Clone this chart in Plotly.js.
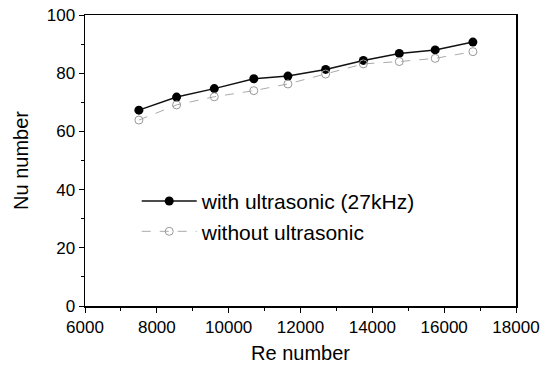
<!DOCTYPE html>
<html>
<head>
<meta charset="utf-8">
<script src="https://cdn.plot.ly/plotly-3.0.1.min.js"></script>
<style>html,body{margin:0;padding:0;background:#fff;}#chart{width:549px;height:370px;}</style>
</head>
<body>
<div id="chart"></div>
<script>
const re = [7500, 8550, 9600, 10700, 11650, 12700, 13750, 14750, 15750, 16800];
const nuWith = [67.3, 71.8, 74.7, 78.1, 79.0, 81.3, 84.4, 86.8, 88.0, 90.7];
const nuWithout = [63.9, 69.1, 71.9, 74.0, 76.3, 79.7, 83.2, 84.0, 85.1, 87.4];
const seriesNames = ['with ultrasonic (27kHz)', 'without ultrasonic'];

const font = 'Liberation Sans, Arial, sans-serif';
const traces = [
  {x: re, y: nuWith, name: seriesNames[0], mode: 'lines+markers',
   line: {color: '#111', width: 1.5},
   marker: {symbol: 'circle', size: 9, color: '#000'}},
  {x: re, y: nuWithout, name: seriesNames[1], mode: 'lines+markers',
   line: {color: '#aaa', width: 1, dash: 'dash'},
   marker: {symbol: 'circle-open', size: 8, color: '#999', line: {width: 1}}}
];
const layout = {
  width: 549, height: 370,
  margin: {l: 85, r: 33, t: 15, b: 64},
  paper_bgcolor: '#fff', plot_bgcolor: '#fff',
  font: {family: font, color: '#000', size: 17},
  showlegend: true,
  legend: {x: 0.12, y: 0.43, xanchor: 'left', yanchor: 'top', bgcolor: 'rgba(0,0,0,0)',
           font: {size: 21, family: font}, itemwidth: 55, tracegroupgap: 0},
  xaxis: {range: [6000, 18000], dtick: 2000, tick0: 6000, tickformat: 'd', ticks: 'outside', ticklen: 5,
          tickcolor: '#000', linecolor: '#000', linewidth: 1.5, mirror: true, showgrid: false,
          zeroline: false, tickfont: {size: 17},
          minor: {dtick: 1000, ticks: 'outside', ticklen: 3, tickcolor: '#000'},
          title: {text: 'Re number', font: {size: 20}, standoff: 10}},
  yaxis: {range: [0, 100], dtick: 20, ticks: 'outside', ticklen: 5,
          tickcolor: '#000', linecolor: '#000', linewidth: 1.5, mirror: true, showgrid: false,
          zeroline: false, tickfont: {size: 17},
          minor: {dtick: 10, ticks: 'outside', ticklen: 3, tickcolor: '#000'},
          title: {text: 'Nu number', font: {size: 20}, standoff: 12}}
};
Plotly.newPlot('chart', traces, layout, {displayModeBar: false, staticPlot: true});
</script>
</body>
</html>
